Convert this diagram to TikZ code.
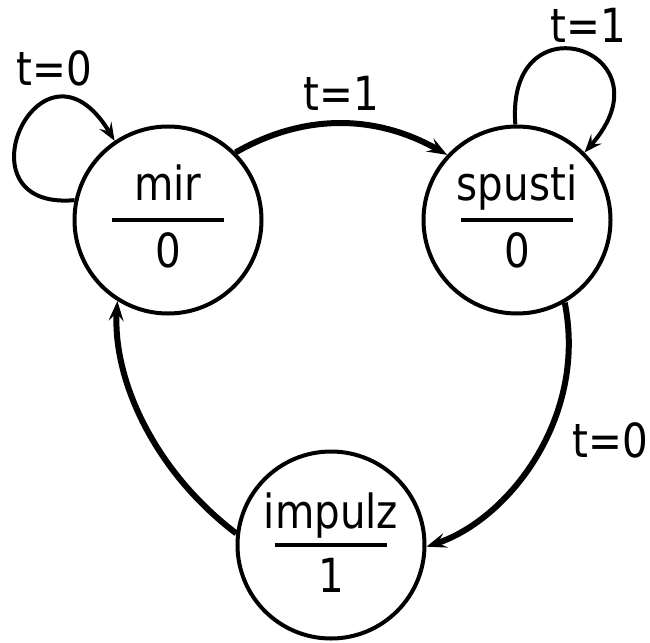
\documentclass[tikz,border=0pt]{standalone}
\usepackage{fontspec}
\setmainfont{DejaVu Sans}[FakeStretch=0.86]
\usetikzlibrary{arrows.meta}
\begin{document}
\begin{tikzpicture}[x=1pt,y=-1pt,
  state/.style={circle,draw,line width=4pt,minimum size=187pt,inner sep=0pt},
  txt/.style={anchor=base,inner sep=0pt,font=\fontsize{47}{50}\selectfont},
  bar/.style={line width=4pt},
  edge/.style={line width=6pt,-{Stealth[length=20pt,width=15pt,inset=8pt]}},
  loopedge/.style={line width=4pt,-{Stealth[length=18pt,width=14pt,inset=7pt]}}]
\useasboundingbox (0,0) rectangle (650,642);

\node[state] (mir) at (168,220) {};
\node[state] (spusti) at (517,220) {};
\node[state] (impulz) at (331,545) {};

\draw[bar] ([xshift=-56pt]mir.center) -- ([xshift=56pt]mir.center);
\draw[bar] ([xshift=-56pt]spusti.center) -- ([xshift=56pt]spusti.center);
\draw[bar] ([xshift=-56pt]impulz.center) -- ([xshift=56pt]impulz.center);

\node[txt] (mirname) at ([yshift=20pt]mir.center) {mir};
\node[txt] (mirout) at ([yshift=-47pt]mir.center) {0};
\node[txt] (spname) at ([yshift=20pt]spusti.center) {spusti};
\node[txt] (spout) at ([yshift=-47pt]spusti.center) {0};
\node[txt] (imname) at ([yshift=17pt]impulz.center) {impulz};
\node[txt] (imout) at ([yshift=-47pt]impulz.center) {1};

\draw[edge] (mir.45) .. controls +(70,-40) and +(-70,-40) .. (spusti.137);
\draw[loopedge] (spusti.91) .. controls +(-10,-130) and +(90,-102) .. (spusti.45);
\draw[loopedge] (mir.168) .. controls +(-122,11) and +(-73,-122) .. (mir.124);
\draw[edge] (spusti.-60) .. controls +(23,115) and +(82,-27) .. (impulz.-1);
\draw[edge] (impulz.173) .. controls +(-83,-63) and +(-5,77) .. (mir.-122);

\node[txt] (l1) at (54,85) {t=0};
\node[txt] (l2) at (341,110) {t=1};
\node[txt] (l3) at (588,43) {t=1};
\node[txt] (l4) at (610,457) {t=0};
\end{tikzpicture}
\end{document}
